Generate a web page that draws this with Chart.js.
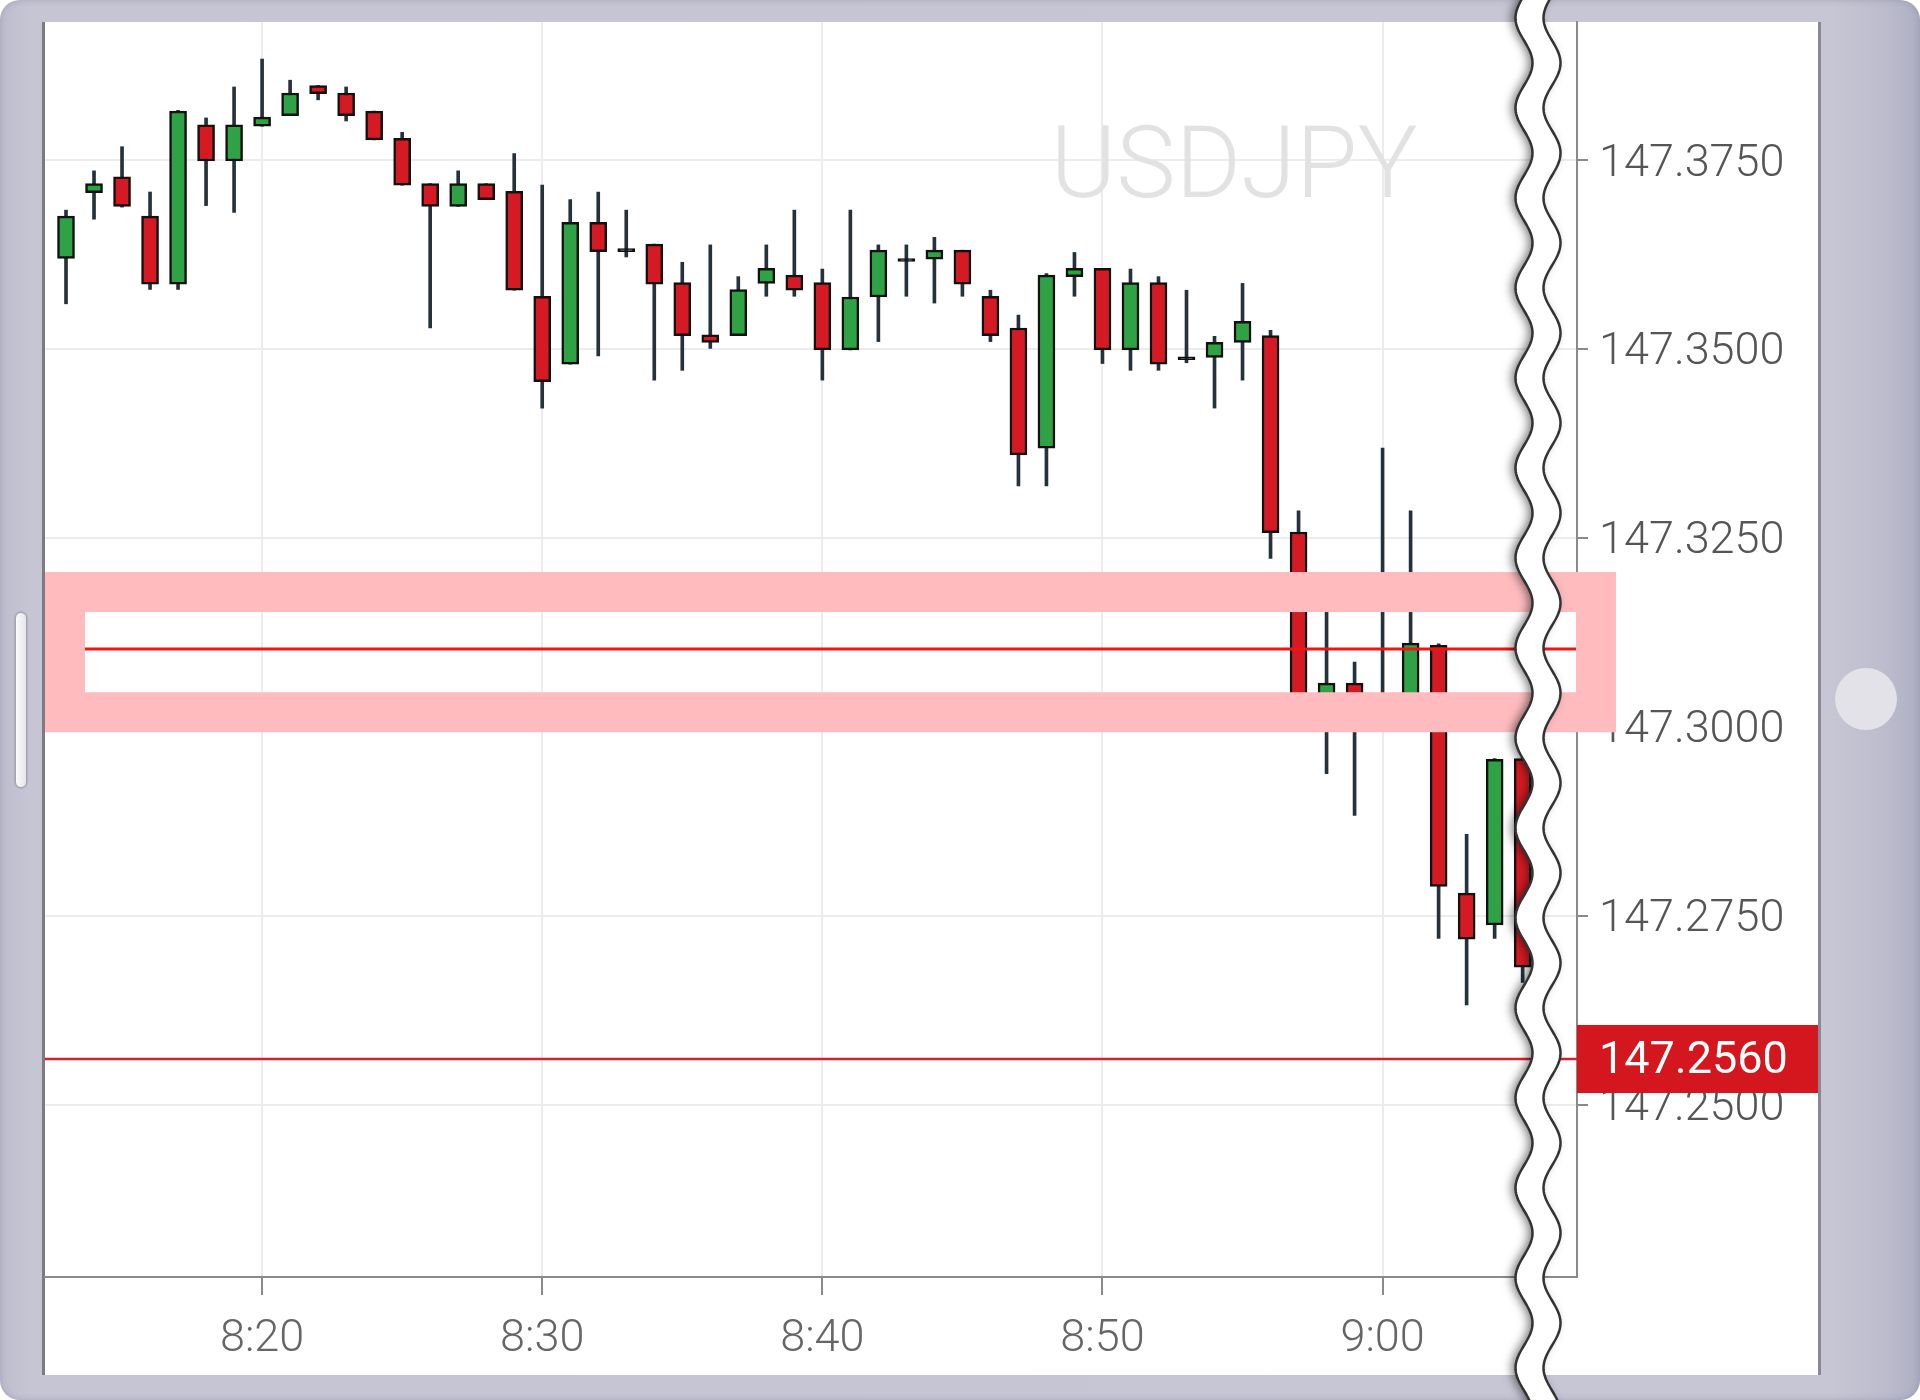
<!DOCTYPE html>
<html>
<head>
<meta charset="utf-8">
<title>USDJPY</title>
<script src="https://cdn.jsdelivr.net/npm/chart.js@4.4.1/dist/chart.umd.min.js"></script>
<style>
  html, body { margin: 0; padding: 0; background: #fff; overflow: hidden; }
  #frame {
    position: absolute; left: 0; top: 0; width: 1920px; height: 1400px;
    border-radius: 20px;
    background: linear-gradient(to right, #bdbdce 0px, #c5c5d4 30px, #c6c6d4 1830px, #bcbccd 1885px, #afafc3 1920px);
    box-shadow: inset 0 0 6px rgba(80, 80, 110, 0.25);
  }
  #panel {
    position: absolute; left: 42px; top: 22px; width: 1779px; height: 1353px;
    box-sizing: border-box; background: #fff;
    border-left: 3px solid #7c7c80; border-right: 3px solid #88888e;
  }
  #pill {
    position: absolute; left: 15px; top: 612px; width: 10px; height: 174px;
    border-radius: 6px; background: linear-gradient(to right, #fbfbfc, #e6e6ea);
    border: 1px solid #a3a3ad; box-shadow: 0 0 2px rgba(0, 0, 0, 0.3);
  }
  #home {
    position: absolute; left: 1835px; top: 668px; width: 62px; height: 62px;
    border-radius: 50%; background: #e2e2e8;
  }
  canvas { position: absolute; left: 0; top: 0; }
</style>
</head>
<body>
<div id="frame"></div>
<div id="panel"></div>
<div id="pill"></div>
<div id="home"></div>
<canvas id="myChart" width="1920" height="1400"></canvas>
<script>
// Candle data, one candle per minute
const times = ['8:13', '8:14', '8:15', '8:16', '8:17', '8:18', '8:19', '8:20', '8:21', '8:22',
  '8:23', '8:24', '8:25', '8:26', '8:27', '8:28', '8:29', '8:30', '8:31', '8:32',
  '8:33', '8:34', '8:35', '8:36', '8:37', '8:38', '8:39', '8:40', '8:41', '8:42',
  '8:43', '8:44', '8:45', '8:46', '8:47', '8:48', '8:49', '8:50', '8:51', '8:52',
  '8:53', '8:54', '8:55', '8:56', '8:57', '8:58', '8:59', '9:00', '9:01', '9:02',
  '9:03', '9:04', '9:05'];
const opens = [147.3620, 147.3707, 147.3728, 147.3676, 147.3586, 147.3797, 147.3749, 147.3795, 147.3809, 147.3849,
  147.3839, 147.3815, 147.3779, 147.3719, 147.3689, 147.3719, 147.3709, 147.3570, 147.3480, 147.3668,
  147.3629, 147.3639, 147.3588, 147.3519, 147.3518, 147.3587, 147.3598, 147.3588, 147.3499, 147.3569,
  147.3616, 147.3619, 147.3631, 147.3570, 147.3528, 147.3369, 147.3596, 147.3607, 147.3499, 147.3588,
  147.3486, 147.3489, 147.3509, 147.3518, 147.3258, 147.3035, 147.3058, 147.3030, 147.3025, 147.3108,
  147.2780, 147.2738, 147.2958];
const highs = [147.3684, 147.3736, 147.3768, 147.3708, 147.3816, 147.3806, 147.3847, 147.3884, 147.3856, 147.3849,
  147.3847, 147.3815, 147.3787, 147.3719, 147.3736, 147.3719, 147.3759, 147.3717, 147.3698, 147.3708,
  147.3684, 147.3639, 147.3615, 147.3638, 147.3596, 147.3638, 147.3684, 147.3606, 147.3684, 147.3638,
  147.3638, 147.3648, 147.3631, 147.3578, 147.3545, 147.3600, 147.3628, 147.3607, 147.3606, 147.3596,
  147.3578, 147.3517, 147.3587, 147.3525, 147.3286, 147.3180, 147.3086, 147.3369, 147.3286, 147.3110,
  147.2858, 147.2958, 147.2960];
const lows = [147.3560, 147.3672, 147.3688, 147.3579, 147.3579, 147.3690, 147.3681, 147.3795, 147.3809, 147.3830,
  147.3802, 147.3777, 147.3717, 147.3528, 147.3689, 147.3698, 147.3578, 147.3422, 147.3480, 147.3491,
  147.3622, 147.3459, 147.3472, 147.3501, 147.3518, 147.3570, 147.3570, 147.3459, 147.3499, 147.3510,
  147.3570, 147.3561, 147.3570, 147.3510, 147.3319, 147.3319, 147.3570, 147.3481, 147.3472, 147.3472,
  147.3482, 147.3422, 147.3459, 147.3223, 147.3030, 147.2938, 147.2883, 147.3010, 147.3020, 147.2720,
  147.2632, 147.2720, 147.2662];
const closes = [147.3676, 147.3719, 147.3689, 147.3586, 147.3815, 147.3749, 147.3797, 147.3807, 147.3839, 147.3838,
  147.3809, 147.3777, 147.3717, 147.3689, 147.3719, 147.3698, 147.3578, 147.3457, 147.3668, 147.3629,
  147.3629, 147.3586, 147.3518, 147.3509, 147.3579, 147.3607, 147.3578, 147.3499, 147.3569, 147.3631,
  147.3616, 147.3631, 147.3586, 147.3518, 147.3360, 147.3598, 147.3607, 147.3499, 147.3588, 147.3480,
  147.3486, 147.3509, 147.3537, 147.3257, 147.3035, 147.3058, 147.3030, 147.3025, 147.3111, 147.2789,
  147.2719, 147.2957, 147.2682];

// Axes: tick labels and visible ranges
const xTickLabels = ['8:20', '8:30', '8:40', '8:50', '9:00'];
const yTickValues = [147.2500, 147.2750, 147.3000, 147.3250, 147.3500, 147.3750];
const xRange = [492.25, 546.94]; // minutes after midnight
const yRange = [147.2272, 147.3933];

// Marked levels
const symbol = 'USDJPY';
const lastPrice = 147.2560;
const levelPrice = 147.3103;
const levelBox = [147.3205, 147.2993]; // top / bottom of the pink frame

function toMinutes(t) {
  const [h, m] = t.split(':').map(Number);
  return h * 60 + m;
}

const green = '#2ea244';
const red = '#d61a24';
const bodyColors = closes.map((c, i) => c > opens[i] ? green : (c < opens[i] ? red : '#222'));

// Draws watermark, level lines, pink frame, price label and the torn edge
const overlay = {
  id: 'overlay',
  beforeDatasetsDraw(chart) {
    const { ctx, chartArea } = chart;
    ctx.save();
    ctx.font = '300 100px Roboto';
    ctx.fillStyle = '#e2e2e2';
    ctx.textAlign = 'center';
    ctx.textBaseline = 'alphabetic';
    ctx.fillText(symbol, chartArea.right - 343, chartArea.top + 175);
    ctx.restore();
  },
  afterDatasetsDraw(chart) {
    const { ctx, chartArea } = chart;
    const y = chart.scales.y;
    ctx.save();

    // level line inside the frame
    const yl = Math.round(y.getPixelForValue(levelPrice));
    ctx.strokeStyle = '#f21414';
    ctx.lineWidth = 3;
    ctx.beginPath();
    ctx.moveTo(chartArea.left, yl);
    ctx.lineTo(chartArea.right, yl);
    ctx.stroke();

    // pink frame round the level
    const top = y.getPixelForValue(levelBox[0]);
    const bottom = y.getPixelForValue(levelBox[1]);
    const left = chartArea.left;
    const right = chartArea.right + 39;
    ctx.strokeStyle = '#ffbbbe';
    ctx.lineWidth = 40;
    ctx.strokeRect(left + 20, top + 20, right - left - 40, bottom - top - 40);

    // last price line and label
    const yp = Math.round(y.getPixelForValue(lastPrice));
    ctx.strokeStyle = '#d8202a';
    ctx.lineWidth = 2.5;
    ctx.beginPath();
    ctx.moveTo(chartArea.left, yp);
    ctx.lineTo(chartArea.right, yp);
    ctx.stroke();
    ctx.fillStyle = '#d4161f';
    ctx.fillRect(chartArea.right, yp - 34, 241, 68);
    ctx.fillStyle = '#ffffff';
    ctx.font = '400 45px Roboto';
    ctx.textAlign = 'left';
    ctx.textBaseline = 'middle';
    ctx.fillText(lastPrice.toFixed(4), chartArea.right + 22, yp + 3);
    ctx.restore();
  },
  afterDraw(chart) {
    // torn edge near the right of the plot
    const { ctx, chartArea } = chart;
    const h = chart.height;
    const c1 = chartArea.right - 53;
    const c2 = chartArea.right - 25;
    const wave = (cx, yy) => cx + 8.5 * Math.cos(2 * Math.PI * (yy - 1323) / 90);
    ctx.save();
    ctx.beginPath();
    for (let yy = -10; yy <= h + 10; yy += 2) ctx.lineTo(wave(c1, yy), yy);
    for (let yy = h + 10; yy >= -10; yy -= 2) ctx.lineTo(wave(c2, yy), yy);
    ctx.closePath();
    ctx.shadowColor = 'rgba(0, 0, 0, 0.5)';
    ctx.shadowBlur = 10;
    ctx.shadowOffsetX = -4;
    ctx.fillStyle = '#ffffff';
    ctx.fill();
    ctx.shadowColor = 'transparent';
    ctx.strokeStyle = '#333333';
    ctx.lineWidth = 2.5;
    [c1, c2].forEach(cx => {
      ctx.beginPath();
      for (let yy = -10; yy <= h + 10; yy += 2) ctx.lineTo(wave(cx, yy), yy);
      ctx.stroke();
    });
    ctx.restore();
  }
};

const tickFont = { family: 'Roboto', size: 45, weight: 300 };

// no extra room for the first / last tick label
function noLabelPadding(s) {
  s.paddingTop = 0;
  s.paddingBottom = 0;
  s.paddingLeft = 0;
  s.paddingRight = 0;
}

const ctx = document.getElementById('myChart').getContext('2d');
new Chart(ctx, {
  type: 'bar',
  data: {
    datasets: [{
      label: 'wicks',
      data: times.map((t, i) => ({ x: toMinutes(t), y: [lows[i], highs[i]] })),
      backgroundColor: '#26323a',
      borderWidth: 0,
      barThickness: 3,
      grouped: false,
      order: 2
    }, {
      label: 'bodies',
      data: times.map((t, i) => ({ x: toMinutes(t), y: [opens[i], closes[i]] })),
      backgroundColor: bodyColors,
      borderColor: '#111111',
      borderWidth: 2.5,
      borderSkipped: false,
      barThickness: 17,
      minBarLength: 3,
      grouped: false,
      order: 1
    }]
  },
  options: {
    responsive: false,
    animation: false,
    layout: { padding: { left: 45, top: 22, right: 102, bottom: 25 } },
    plugins: {
      legend: { display: false },
      tooltip: { enabled: false }
    },
    scales: {
      x: {
        type: 'linear',
        position: 'bottom',
        offset: false,
        min: xRange[0],
        max: xRange[1],
        afterBuildTicks: s => { s.ticks = xTickLabels.map(l => ({ value: toMinutes(l) })); },
        afterFit: s => { s.height = 98; noLabelPadding(s); },
        grid: { offset: false, color: '#ececec', lineWidth: 2, tickColor: '#8a8a8a', tickLength: 18, tickWidth: 2 },
        border: { color: '#8a8a8a', width: 2 },
        ticks: {
          autoSkip: false,
          maxRotation: 0,
          padding: 18,
          color: '#666666',
          font: tickFont,
          callback: v => xTickLabels[xTickLabels.map(toMinutes).indexOf(v)]
        }
      },
      y: {
        type: 'linear',
        position: 'right',
        min: yRange[0],
        max: yRange[1],
        afterBuildTicks: s => { s.ticks = yTickValues.map(v => ({ value: v })); },
        afterFit: s => { s.width = 241; noLabelPadding(s); },
        grid: { color: '#ececec', lineWidth: 2, tickColor: '#8a8a8a', tickLength: 11, tickWidth: 2 },
        border: { color: '#8a8a8a', width: 2 },
        ticks: {
          padding: 11,
          labelOffset: 4,
          color: '#555555',
          font: tickFont,
          callback: v => v.toFixed(4)
        }
      }
    }
  },
  plugins: [overlay]
});
</script>
</body>
</html>
